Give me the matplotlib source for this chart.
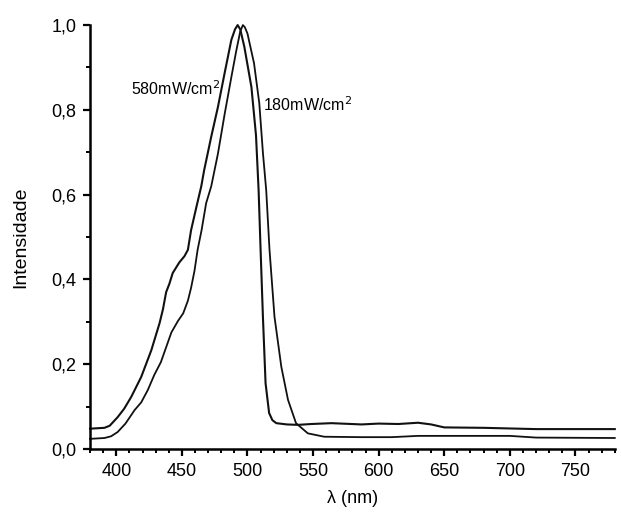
import matplotlib
matplotlib.use("Agg")
import matplotlib.pyplot as plt
from matplotlib.ticker import MultipleLocator, FuncFormatter

# spectra (wavelength in nm, normalised intensity)
wl_580 = [380, 391, 395, 401, 406, 411.4, 419, 426.7, 433, 435.6, 438, 440.5, 443, 448,
          452, 454.6, 457, 461, 464.8, 467, 472.4, 477.5, 482.6, 487.7, 490.5, 492.5,
          494.5, 497.6, 503, 506.5, 508.5, 510, 511.8, 513.8, 516.5, 519, 522, 530,
          538.5, 548.6, 564, 587, 600, 615, 630, 640, 650, 680, 720, 780]
int_580 = [0.048, 0.050, 0.055, 0.075, 0.095, 0.123, 0.17, 0.233, 0.297, 0.33, 0.37, 0.39,
           0.415, 0.44, 0.455, 0.47, 0.516, 0.57, 0.62, 0.658, 0.737, 0.807, 0.887, 0.965,
           0.99, 1.0, 0.99, 0.949, 0.854, 0.74, 0.61, 0.47, 0.31, 0.155, 0.085, 0.068,
           0.061, 0.058, 0.057, 0.059, 0.061, 0.058, 0.060, 0.059, 0.062, 0.058, 0.051,
           0.050, 0.047, 0.047]

wl_180 = [380, 391, 396, 401, 407, 414, 419, 424, 429, 434, 438, 442, 447, 451, 454.6,
          457, 459.6, 462, 465, 468.5, 472.4, 477.5, 482.6, 487.7, 491.5, 494.5, 496.5,
          498, 500, 505, 509, 511.8, 514.3, 516.8, 520.6, 525.8, 530.9, 537, 546, 558.5,
          587, 610, 630, 700, 720, 780]
int_180 = [0.024, 0.026, 0.030, 0.040, 0.060, 0.092, 0.11, 0.139, 0.175, 0.205, 0.24,
           0.275, 0.302, 0.32, 0.35, 0.38, 0.42, 0.47, 0.516, 0.58, 0.62, 0.697, 0.79,
           0.877, 0.94, 0.985, 1.0, 0.995, 0.98, 0.91, 0.816, 0.698, 0.61, 0.47, 0.312,
           0.194, 0.116, 0.061, 0.037, 0.029, 0.028, 0.028, 0.031, 0.031, 0.027, 0.026]

plt.rcParams['font.family'] = ['Liberation Sans', 'DejaVu Sans']

fig = plt.figure(figsize=(6.21, 5.12), dpi=100)
ax = fig.add_axes([0.145, 0.123, 0.845, 0.828])

ax.plot(wl_580, int_580, color='#111111', lw=1.5, clip_on=False)
ax.plot(wl_180, int_180, color='#111111', lw=1.3, clip_on=False)

ax.text(445, 0.85, "580mW/cm$^2$", ha='center', va='center', fontsize=11.5)
ax.text(546, 0.813, "180mW/cm$^2$", ha='center', va='center', fontsize=11.5)

ax.set_xlim(380, 780)
ax.set_ylim(0, 1.0)
ax.xaxis.set_major_locator(MultipleLocator(50))
ax.xaxis.set_minor_locator(MultipleLocator(10))
ax.yaxis.set_major_locator(MultipleLocator(0.2))
ax.yaxis.set_minor_locator(MultipleLocator(0.1))
ax.yaxis.set_major_formatter(FuncFormatter(lambda v, _: f"{v:.1f}".replace('.', ',')))

ax.spines['top'].set_visible(False)
ax.spines['right'].set_visible(False)
ax.spines['left'].set_linewidth(1.8)
ax.spines['bottom'].set_linewidth(1.8)
ax.tick_params(which='major', direction='out', length=5, width=1.6, labelsize=13, pad=5)
ax.tick_params(which='minor', direction='out', length=3, width=1.4)

ax.set_xlabel("λ (nm)", fontsize=13, labelpad=7)
ax.set_ylabel("Intensidade", fontsize=14, labelpad=16)

fig.savefig("out.png", dpi=100)
